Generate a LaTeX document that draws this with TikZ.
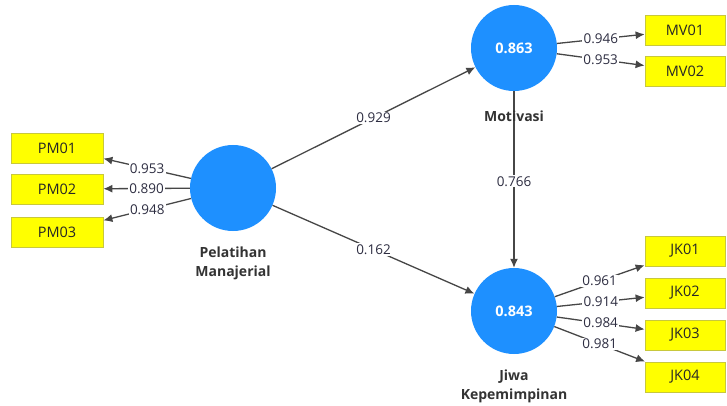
\documentclass[tikz,border=0pt]{standalone}
\usepackage{fontspec}
\setmainfont{Open Sans}
\usetikzlibrary{arrows.meta}
\definecolor{lvblue}{RGB}{30,144,255}
\definecolor{mvyellow}{RGB}{255,255,0}
\definecolor{mvborder}{RGB}{200,200,60}
\definecolor{linegray}{RGB}{70,70,70}
\definecolor{labtext}{RGB}{45,45,65}
\begin{document}
\begin{tikzpicture}[x=1pt,y=-1pt,
  latent/.style={circle,fill=lvblue,draw=none,minimum size=86pt,inner sep=0pt,
    text=white,font=\fontsize{14.5}{16}\selectfont\bfseries},
  indic/.style={rectangle,fill=mvyellow,draw=mvborder,line width=0.8pt,
    minimum height=30pt,inner sep=0pt,font=\fontsize{14.5}{16}\selectfont,text=black!85},
  pmbox/.style={indic,minimum width=92pt},
  rbox/.style={indic,minimum width=80pt},
  lvname/.style={align=center,font=\fontsize{14}{19}\selectfont\bfseries,text=black!80},
  arr/.style={draw=linegray,line width=1.3pt,-{Latex[length=9pt,width=8pt]}},
  lab/.style={fill=white,inner sep=1.2pt,font=\fontsize{13.5}{15}\selectfont,text=labtext}]
\useasboundingbox (0,0) rectangle (727,406);
\fill[white] (0,0) rectangle (727,406);
% latent variables
\node[latent] (PL) at (233,188) {};
\node[latent] (MO) at (514,48) {0.863};
\node[latent] (JK) at (514,311) {0.843};
% indicators
\node[pmbox] (PM01) at (57,148) {PM01};
\node[pmbox] (PM02) at (57,189) {PM02};
\node[pmbox] (PM03) at (57,232) {PM03};
\node[rbox] (MV01) at (685,30) {MV01};
\node[rbox] (MV02) at (685,71) {MV02};
\node[rbox] (JK01) at (685,251) {JK01};
\node[rbox] (JK02) at (685,293) {JK02};
\node[rbox] (JK03) at (685,335) {JK03};
\node[rbox] (JK04) at (685,377) {JK04};
% outer loadings
\draw[arr] (PL) -- node[lab]{0.953} (PM01);
\draw[arr] (PL) -- node[lab]{0.890} (PM02);
\draw[arr] (PL) -- node[lab]{0.948} (PM03);
\draw[arr] (MO) -- node[lab]{0.946} (MV01);
\draw[arr] (MO) -- node[lab]{0.953} (MV02);
\draw[arr] (JK) -- node[lab]{0.961} (JK01);
\draw[arr] (JK) -- node[lab]{0.914} (JK02);
\draw[arr] (JK) -- node[lab]{0.984} (JK03);
\draw[arr] (JK) -- node[lab]{0.981} (JK04);
% structural paths
\draw[arr] (PL) -- node[lab]{0.929} (MO);
\draw[arr] (PL) -- node[lab]{0.162} (JK);
\draw[arr] (MO) -- node[lab,pos=0.51]{0.766} (JK);
% names
\node[lvname] (PLn) at (233,263) {Pelatihan\\Manajerial};
\node[lvname] (MOn) at (514,116) {Motivasi};
\node[lvname] (JKn) at (514,386) {Jiwa\\Kepemimpinan};
\end{tikzpicture}
\end{document}
